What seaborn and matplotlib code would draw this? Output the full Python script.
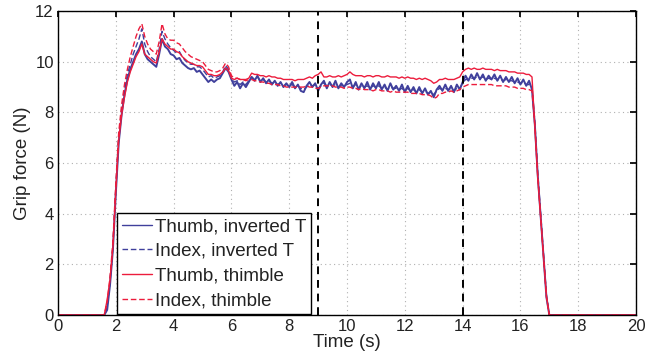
import numpy as np
import pandas as pd
import matplotlib
matplotlib.use("Agg")
import matplotlib.pyplot as plt
import seaborn as sns

# sample times (s): 0, then 1.6 ... 17.0 every 0.1 s, then 20
time_s = [0.0,
          1.6, 1.7, 1.8, 1.9, 2.0, 2.1, 2.2, 2.3, 2.4, 2.5, 2.6, 2.7, 2.8, 2.9,
          3.0, 3.1, 3.2, 3.3, 3.4, 3.5, 3.6, 3.7, 3.8, 3.9,
          4.0, 4.1, 4.2, 4.3, 4.4, 4.5, 4.6, 4.7, 4.8, 4.9,
          5.0, 5.1, 5.2, 5.3, 5.4, 5.5, 5.6, 5.7, 5.8, 5.9,
          6.0, 6.1, 6.2, 6.3, 6.4, 6.5, 6.6, 6.7, 6.8, 6.9,
          7.0, 7.1, 7.2, 7.3, 7.4, 7.5, 7.6, 7.7, 7.8, 7.9,
          8.0, 8.1, 8.2, 8.3, 8.4, 8.5, 8.6, 8.7, 8.8, 8.9,
          9.0, 9.1, 9.2, 9.3, 9.4, 9.5, 9.6, 9.7, 9.8, 9.9,
          10.0, 10.1, 10.2, 10.3, 10.4, 10.5, 10.6, 10.7, 10.8, 10.9,
          11.0, 11.1, 11.2, 11.3, 11.4, 11.5, 11.6, 11.7, 11.8, 11.9,
          12.0, 12.1, 12.2, 12.3, 12.4, 12.5, 12.6, 12.7, 12.8, 12.9,
          13.0, 13.1, 13.2, 13.3, 13.4, 13.5, 13.6, 13.7, 13.8, 13.9,
          14.0, 14.1, 14.2, 14.3, 14.4, 14.5, 14.6, 14.7, 14.8, 14.9,
          15.0, 15.1, 15.2, 15.3, 15.4, 15.5, 15.6, 15.7, 15.8, 15.9,
          16.0, 16.1, 16.2, 16.3, 16.4, 16.5, 16.6, 16.7, 16.8, 16.9,
          17.0, 20.0]

thumb_inv_t = [0.0,
               0.0, 0.2, 1.2, 2.6, 4.8, 6.8, 7.9, 8.7, 9.3, 9.7, 10.0, 10.3, 10.5, 10.8,
               10.3, 10.1, 10.0, 9.9, 9.8, 10.3, 10.9, 10.6, 10.5, 10.3,
               10.25, 10.1, 10.15, 9.95, 9.85, 9.75, 9.7, 9.75, 9.6, 9.65,
               9.5, 9.35, 9.2, 9.3, 9.2, 9.3, 9.35, 9.55, 9.75, 9.6,
               9.3, 9.05, 9.2, 8.95, 9.15, 9.0, 9.2, 9.4, 9.25, 9.45,
               9.2, 9.35, 9.15, 9.3, 9.1, 9.25, 9.05, 9.2, 9.0, 9.15,
               9.0, 9.2, 8.95, 9.1, 8.85, 8.8, 9.05, 9.2, 9.0, 9.15,
               8.85, 9.1, 9.25, 8.95, 9.2, 9.0, 9.25, 8.95, 9.15, 9.0,
               9.2, 9.3, 8.95, 9.2, 8.9, 9.15, 8.95, 9.2, 8.9, 9.15,
               8.95, 9.2, 8.9, 9.1, 8.85, 9.15, 8.9, 9.05, 8.85, 9.1,
               8.8, 9.05, 8.8, 9.0, 8.75, 9.0, 8.75, 8.95, 8.7, 8.85,
               8.6, 8.9, 9.05, 8.85, 9.1, 8.85, 9.05, 8.8, 9.1, 8.9,
               9.2, 9.45, 9.25, 9.5, 9.3, 9.55, 9.3, 9.5, 9.25, 9.45,
               9.3, 9.5, 9.25, 9.45, 9.2, 9.4, 9.2, 9.4, 9.15, 9.35,
               9.1, 9.3, 9.05, 9.25, 8.9, 7.5, 5.5, 3.9, 2.3, 0.7,
               0.0, 0.0]

index_inv_t = [0.0,
               0.0, 0.3, 1.3, 2.7, 5.0, 7.0, 8.1, 8.9, 9.5, 9.9, 10.3, 10.6, 10.9, 11.3,
               10.7, 10.4, 10.2, 10.1, 10.0, 10.5, 11.2, 10.9, 10.7, 10.55,
               10.45, 10.35, 10.4, 10.2, 10.05, 9.95, 9.9, 9.9, 9.8, 9.8,
               9.7, 9.55, 9.4, 9.45, 9.35, 9.4, 9.45, 9.6, 9.85, 9.7,
               9.35, 9.2, 9.25, 9.1, 9.2, 9.1, 9.25, 9.4, 9.3, 9.4,
               9.25, 9.3, 9.2, 9.25, 9.15, 9.2, 9.1, 9.15, 9.05, 9.1,
               9.05, 9.1, 9.0, 9.05, 8.95, 8.9, 9.0, 9.1, 9.05, 9.1,
               8.95, 9.05, 9.15, 9.05, 9.1, 9.05, 9.1, 9.0, 9.05, 9.05,
               9.1, 9.15, 9.0, 9.1, 8.95, 9.05, 9.0, 9.05, 8.95, 9.05,
               9.0, 9.05, 8.95, 9.0, 8.9, 9.0, 8.95, 8.95, 8.9, 8.95,
               8.85, 8.95, 8.85, 8.9, 8.8, 8.9, 8.8, 8.85, 8.75, 8.8,
               8.7, 8.85, 8.95, 8.9, 8.95, 8.9, 8.95, 8.85, 8.95, 8.95,
               9.15, 9.3, 9.3, 9.35, 9.35, 9.4, 9.35, 9.4, 9.3, 9.35,
               9.3, 9.35, 9.3, 9.3, 9.25, 9.3, 9.25, 9.25, 9.2, 9.2,
               9.15, 9.2, 9.1, 9.1, 9.0, 7.6, 5.6, 4.0, 2.4, 0.8,
               0.0, 0.0]

thumb_thimble = [0.0,
                 0.0, 0.6, 1.4, 2.7, 4.9, 6.9, 7.9, 8.6, 9.2, 9.6, 9.9, 10.2, 10.4, 10.7,
                 10.3, 10.2, 10.1, 10.0, 9.95, 10.4, 10.9, 10.7, 10.6, 10.5,
                 10.5, 10.4, 10.35, 10.2, 10.1, 10.0, 9.95, 9.9, 9.85, 9.85,
                 9.8, 9.65, 9.5, 9.5, 9.45, 9.45, 9.5, 9.6, 9.75, 9.65,
                 9.35, 9.3, 9.35, 9.3, 9.3, 9.3, 9.35, 9.55, 9.5, 9.5,
                 9.45, 9.45, 9.4, 9.45, 9.4, 9.4, 9.35, 9.35, 9.3, 9.3,
                 9.3, 9.3, 9.25, 9.3, 9.3, 9.3, 9.35, 9.4, 9.35, 9.45,
                 9.5, 9.6, 9.4, 9.4, 9.45, 9.4, 9.4, 9.45, 9.4, 9.45,
                 9.5, 9.6, 9.5, 9.45, 9.45, 9.45, 9.4, 9.45, 9.45, 9.4,
                 9.45, 9.45, 9.4, 9.4, 9.45, 9.4, 9.4, 9.4, 9.35, 9.4,
                 9.35, 9.4, 9.35, 9.35, 9.3, 9.35, 9.3, 9.35, 9.3, 9.25,
                 9.15, 9.2, 9.3, 9.3, 9.35, 9.3, 9.3, 9.3, 9.35, 9.4,
                 9.6, 9.7, 9.75, 9.7, 9.75, 9.7, 9.7, 9.75, 9.7, 9.7,
                 9.7, 9.65, 9.7, 9.65, 9.65, 9.65, 9.6, 9.6, 9.6, 9.55,
                 9.55, 9.55, 9.5, 9.5, 9.4, 7.4, 5.4, 3.85, 2.3, 0.75,
                 0.0, 0.0]

index_thimble = [0.0,
                 0.0, 0.5, 1.5, 2.9, 5.2, 7.2, 8.3, 9.1, 9.7, 10.2, 10.6, 11.0, 11.3, 11.5,
                 11.0, 10.7, 10.5, 10.4, 10.3, 10.8, 11.5, 11.1, 10.9, 10.85,
                 10.85, 10.75, 10.7, 10.55, 10.4, 10.3, 10.2, 10.15, 10.1, 10.05,
                 10.0, 9.85, 9.7, 9.65, 9.6, 9.6, 9.65, 9.75, 9.95, 9.8,
                 9.45, 9.35, 9.35, 9.3, 9.3, 9.25, 9.3, 9.3, 9.25, 9.25,
                 9.2, 9.2, 9.15, 9.15, 9.1, 9.1, 9.1, 9.05, 9.05, 9.0,
                 9.0, 9.0, 9.0, 9.0, 9.0, 9.0, 9.05, 9.0, 9.0, 8.95,
                 8.95, 9.0, 9.05, 9.05, 9.05, 9.05, 9.0, 9.0, 9.0, 8.95,
                 9.0, 9.0, 8.95, 8.95, 8.9, 8.95, 8.9, 8.9, 8.9, 8.85,
                 8.9, 8.9, 8.85, 8.85, 8.85, 8.8, 8.85, 8.8, 8.8, 8.8,
                 8.8, 8.8, 8.75, 8.75, 8.75, 8.75, 8.7, 8.7, 8.7, 8.65,
                 8.55, 8.6, 8.75, 8.75, 8.8, 8.8, 8.85, 8.8, 8.85, 8.9,
                 9.0, 9.05, 9.1, 9.1, 9.1, 9.1, 9.1, 9.1, 9.1, 9.1,
                 9.1, 9.05, 9.05, 9.05, 9.05, 9.05, 9.0, 9.0, 9.0, 8.95,
                 8.95, 8.95, 8.9, 8.9, 8.85, 7.5, 5.5, 3.9, 2.35, 0.7,
                 0.0, 0.0]

labels = ["Thumb, inverted T", "Index, inverted T", "Thumb, thimble", "Index, thimble"]
event_times = [9, 14]

blue = "#40409c"
red = "#ec1c3c"

df = pd.concat([
    pd.DataFrame({"time": time_s, "force": vals, "series": lab})
    for lab, vals in zip(labels, [thumb_inv_t, index_inv_t, thumb_thimble, index_thimble])
])

sns.set_theme(style="white")
plt.rcParams["font.family"] = ["Liberation Sans", "DejaVu Sans"]

fig = plt.figure(figsize=(6.7, 3.58), dpi=100)
ax = fig.add_axes([0.0866, 0.12, 0.8627, 0.849])

sns.lineplot(data=df, x="time", y="force", hue="series", style="series",
             hue_order=labels, style_order=labels,
             palette=[blue, blue, red, red],
             dashes=[(None, None), (4, 2), (None, None), (4, 2)],
             sort=False, estimator=None, linewidth=1.0, ax=ax)
# thumb (inverted T) trace is the noisy, heavier band
ax.lines[0].set_linewidth(1.4)

for t in event_times:
    ax.axvline(t, color="black", linestyle=(0, (4, 3)), linewidth=1.4, zorder=5)

ax.set_xlim(0, 20)
ax.set_ylim(0, 12)
ax.set_xticks(range(0, 21, 2))
ax.set_yticks(range(0, 13, 2))
ax.grid(True, color="#b0b0b0", linestyle=(0, (1, 3)), linewidth=0.8)
ax.tick_params(direction="in", top=True, right=True, length=4, labelsize=12,
               color="black", labelcolor="#222222", pad=3)
for s in ax.spines.values():
    s.set_color("black")
    s.set_linewidth(1.0)

ax.set_xlabel("Time (s)", fontsize=13.5, labelpad=0, color="#222222")
ax.set_ylabel("Grip force (N)", fontsize=13.5, labelpad=3, color="#222222")

leg = ax.legend(loc="lower left", bbox_to_anchor=(0.102, 0.004), fontsize=13.5,
                handlelength=1.6, handletextpad=0.2, borderpad=0.25,
                labelspacing=0.4, fancybox=False, framealpha=1,
                edgecolor="black", borderaxespad=0)
leg.get_frame().set_linewidth(1.0)
for txt in leg.get_texts():
    txt.set_color("#222222")

fig.savefig("out.png", dpi=100)
